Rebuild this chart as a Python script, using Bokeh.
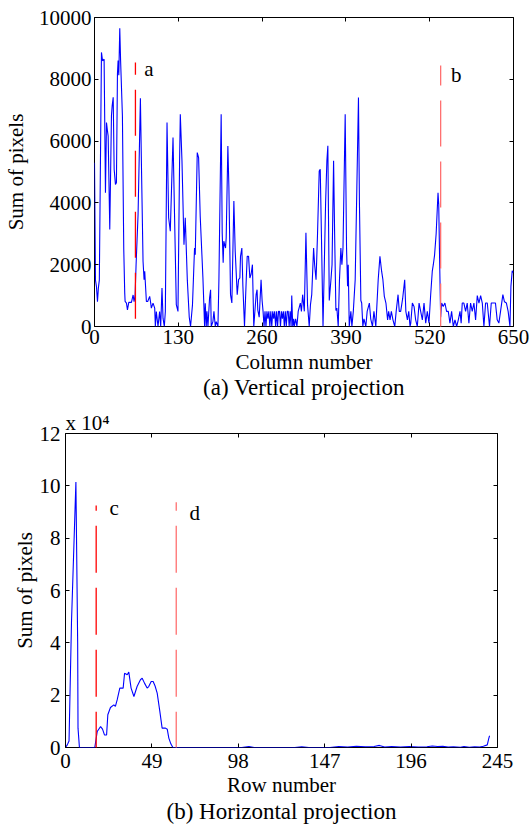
from bokeh.plotting import figure
from bokeh.models import Range1d, FixedTicker, LinearAxis, Title
from bokeh.core.properties import value
from bokeh.embed import file_html
from bokeh.resources import INLINE

# ---------------- data: (a) vertical projection ----------------
col_x = [0, 1.5, 3, 4.6, 6, 7.5, 10.8, 12.5, 14.9, 17, 18.6, 20.1, 21.2, 23.7, 26.3, 27.4, 29, 30.5,
         32.5, 34, 35.6, 36.6, 37.7, 39.2, 40.5, 43.3, 45.4, 46.9, 47.5, 49.6, 51.1, 53.2, 57.3, 59.9,
         61.4, 63, 64.5, 67.6, 71.2, 73, 75.3, 76.9, 77.9, 80.5, 82.5, 85.6, 87.2, 88.2, 90.8, 93.4,
         94.4, 95.9, 98.5, 101, 102.7, 104.7, 106.3, 108.3, 109.9, 112.5, 115, 117.6, 121.8, 126.9,
         129.5, 132, 133.1, 135.7, 138.8, 140.8, 144, 147, 149, 152, 155.2, 156.3, 159.4, 161.5, 164,
         168.2, 170.8, 171.8, 173.4, 174.4, 176, 178.5, 180.1, 181.1, 183.7, 185.3, 187.4, 188.9,
         191.5, 193, 196.5, 198.1, 199.6, 200.6, 203.3, 204.3, 206.9, 208.5, 211, 213.1, 216.2, 218.3,
         221.4, 223.5, 225.5, 226.5, 228.6, 230.2, 232.7, 235.5, 236.9, 239, 241, 243, 245, 247.1,
         250.7, 252.2, 253.3, 255.5, 258.4, 260, 261.5, 263, 264.5, 266, 267.5, 269, 270.5, 272,
         273.5, 275, 276.5, 278, 279.5, 281, 282.5, 284, 285.5, 287, 288.5, 290, 291.5, 293, 294.5,
         296, 297.5, 299, 300.5, 302, 303.5, 305, 306, 307.5, 309, 310, 312, 314, 316, 319.3, 321,
         322.9, 325.5, 328, 330.5, 333.1, 335, 337, 339.9, 341.5, 343.7, 346, 348.6, 350.2, 352,
         354.5, 356, 358.5, 360.5, 362, 364.2, 366.8, 368.5, 370.9, 372.5, 374.5, 376, 378.1, 380,
         382.2, 383.8, 385.5, 388.9, 391, 392.6, 393.6, 395.2, 397.7, 399.3, 401.5, 404.4, 407, 409.5,
         411, 413.2, 414.5, 416.3, 418, 420.9, 423, 426.4, 428.5, 431.2, 433.5, 436.4, 440.1, 442.8,
         445.4, 447.4, 449.6, 452.1, 454.7, 456.3, 458.5, 460.5, 463, 465.8, 468, 470.9, 472.8, 475,
         478, 481.2, 483, 485.4, 487.5, 489.5, 490.6, 493.1, 495.7, 498.2, 500.8, 503.5, 506, 508.6,
         511.2, 513.8, 516.3, 518.9, 521.5, 524, 525.6, 527.5, 530, 532.9, 534, 535.5, 537, 538.5,
         541, 543.6, 546.2, 548.8, 551.4, 554, 556.6, 559.2, 561.8, 564.4, 567, 568.8, 570.5, 573,
         575.7, 578.2, 580.8, 583.4, 586, 588.6, 591.2, 593.8, 596.4, 599, 601.6, 604.1, 606.7, 609.3,
         612.8, 615.5, 618.6, 622, 624.7, 627.3, 629.9, 633.5, 636, 639, 641.7, 644.5, 646, 648, 650]
col_sum = [5300, 1500, 1300, 800, 1250, 1500, 8870, 8600, 8650, 4330, 6600, 6330, 6160, 3140, 6820, 7140, 7420, 5090,
           4600, 4655, 8170, 8610, 8130, 9650, 8600, 6820, 2490, 1080, 810, 757, 540, 780, 780, 1020,
           800, 1020, 2000, 3630, 7390, 5000, 2110, 1515, 1785, 810, 810, 975, 757, 595, 757, 595,
           0, 487, 0, 487, 0, 1245, 270, 0, 487, 6600, 3520, 3085, 6115, 705,
           487, 5360, 6870, 5360, 2650, 3520, 1500, 300, 0, 700, 2540, 2320, 5630, 5465, 3570,
           1570, 0, 750, 0, 490, 0, 920, 1190, 0, 160, 490, 0, 160,
           0, 1500, 6870, 3030, 2060, 2760, 2540, 2870, 5845, 4500, 1030, 760, 4060, 2430,
           1030, 1515, 1570, 2270, 2540, 1300, 0, 1570, 2270, 2270, 1570, 1700, 2000, 0,
           1030, 1190, 540, 300, 1515, 840, 490, 0, 490, 0, 490, 250, 490, 0,
           490, 0, 490, 250, 490, 0, 490, 0, 490, 490, 0, 490, 250, 490, 0,
           490, 0, 490, 490, 0, 490, 0, 1000, 0, 250, 0, 250, 0, 490, 760, 490,
           1030, 490, 3030, 700, 0, 700, 1030, 2540, 2000, 1515, 3000, 5030, 5090, 3000,
           0, 1500, 4000, 5360, 5850, 840, 1515, 2000, 5360, 3000, 520, 600, 0, 1500,
           2540, 2000, 2540, 6870, 2540, 1300, 2000, 0, 490, 0, 490, 1515, 4500, 7410,
           4000, 840, 760, 0, 250, 0, 490, 760, 250, 0, 490, 0, 1515, 2270,
           1790, 1515, 975, 760, 215, 490, 215, 490, 215, 0, 490, 1030, 490, 490,
           900, 1515, 490, 215, 490, 0, 100, 760, 650, 215, 0, 760, 490, 215,
           760, 110, 490, 110, 1030, 1790, 2000, 2300, 3000, 4330, 3950, 2000, 300, 760,
           650, 760, 490, 490, 110, 490, 0, 215, 0, 215, 490, 110, 760, 760,
           490, 760, 110, 760, 490, 760, 215, 1000, 760, 1000, 760, 0, 760, 760,
           0, 760, 760, 760, 215, 110, 490, 1030, 800, 760, 490, 0, 1300, 1800, 1750]

col_ticks = [0, 130, 260, 390, 520, 650]
col_sum_ticks = [0, 2000, 4000, 6000, 8000, 10000]

# cut markers (a, b)
ab_names = ["a", "b"]
ab_pos = [63.5, 537]
ab_bottom = [250, -100]
ab_top = [8540, 8450]
ab_colors = ["#ff0000", "#ff7070"]
ab_label_x = [77, 553]
ab_label_y = [8347, 8152]

# ---------------- data: (b) horizontal projection ----------------
row_x = [0, 1, 2, 3.4, 5.9, 6.9, 7.1, 7.9, 16.6, 18, 19.9, 21, 22.1, 23.3, 24, 25.5, 27.4, 28.3, 29.3,
         30.8, 32.7, 33.5, 35, 35.9, 37.2, 38.8, 40.6, 42.5, 43.5, 44.8, 46.3, 47.2, 48.6, 49.7, 50.8,
         52, 53.5, 54.8, 56.7, 57.7, 58.6, 59.8, 60.9, 100, 104, 107, 130, 134, 138, 150, 155, 160,
         165, 170, 175, 178, 181, 185, 190, 195, 200, 205, 208, 211, 214, 217, 220, 224, 226, 229,
         232, 235, 237, 239.2, 240.1, 240.5]
row_sum = [0, 0.1, 0.25, 4.8, 10.15, 4.0, 0.74, 0, 0, 0.61, 0.80, 0.7, 0.48, 0.48, 1.25, 1.53, 1.63, 1.57, 1.82,
           2.27, 2.27, 2.84, 2.78, 2.88, 2.27, 1.95, 2.33, 2.59, 2.65, 2.46, 2.27, 2.33, 2.52, 2.52, 2.35,
           2.08, 1.38, 0.74, 0.74, 0.7, 0.36, 0.13, 0, 0, 0.04, 0, 0, 0.03, 0, 0, 0.04, 0.02,
           0.05, 0.03, 0.04, 0.08, 0.02, 0.04, 0.02, 0.04, 0.02, 0.03, 0.06, 0.04, 0.05, 0.02, 0.03, 0.01, 0.04, 0.01,
           0.03, 0.02, 0.05, 0.1, 0.36, 0.45]

row_ticks = [0, 49, 98, 147, 196, 245]
row_sum_ticks = [0, 2, 4, 6, 8, 10, 12]

cd_names = ["c", "d"]
cd_pos = [17.4, 62.8]
cd_bottom = [-0.43, -0.43]
cd_top = [9.25, 9.37]
cd_colors = ["#ff0000", "#ff7070"]
cd_label_x = [25, 70.3]
cd_label_y = [9.17, 8.98]

SERIF = "Liberation Serif"
W = 532


def style(p, xticks, yticks, ylab_standoff, xlab_standoff, ytick_standoff, xtick_standoff):
    p.outline_line_color = "black"
    p.outline_line_width = 1
    p.xgrid.visible = False
    p.ygrid.visible = False
    p.background_fill_color = "white"
    p.border_fill_color = "white"
    top = LinearAxis()
    right = LinearAxis()
    p.add_layout(top, "above")
    p.add_layout(right, "right")
    for ax in p.xaxis:
        ax.ticker = FixedTicker(ticks=xticks)
    for ax in p.yaxis:
        ax.ticker = FixedTicker(ticks=yticks)
    for ax in list(p.xaxis) + list(p.yaxis):
        ax.axis_line_color = None
        ax.major_tick_in = 4
        ax.major_tick_out = 0
        ax.major_tick_line_color = "black"
        ax.minor_tick_line_color = None
        ax.major_label_text_font = SERIF
        ax.major_label_text_font_size = "21px"
        ax.major_label_text_color = "black"
        ax.axis_label_text_font = SERIF
        ax.axis_label_text_font_size = "21px"
        ax.axis_label_text_font_style = "normal"
        ax.axis_label_text_color = "black"
    for ax in (top, right):
        ax.major_label_text_font_size = "1px"
        ax.major_label_text_color = None
        ax.major_label_standoff = 0
    p.below[0].major_label_standoff = xtick_standoff
    p.below[0].axis_label_standoff = xlab_standoff
    p.left[0].major_label_standoff = ytick_standoff
    p.left[0].axis_label_standoff = ylab_standoff


# ---------------- figure (a) ----------------
p1 = figure(width=W, height=405, output_backend="svg", toolbar_location=None,
            x_range=Range1d(0, 650), y_range=Range1d(0, 10000),
            min_border_left=93, min_border_right=19, min_border_top=17, min_border_bottom=79)
p1.xaxis.axis_label = "Column number"
p1.yaxis.axis_label = "Sum of pixels"
style(p1, col_ticks, col_sum_ticks, 8, 3, 3, 3)

p1.line(col_x, col_sum, line_color="#0000ff", line_width=1.1)
for i in range(len(ab_names)):
    p1.line([ab_pos[i], ab_pos[i]], [ab_bottom[i], ab_top[i]], line_color=ab_colors[i],
            line_width=1.3, line_dash="46 15")
p1.text(x=ab_label_x, y=ab_label_y, text=ab_names, text_font=value(SERIF),
        text_font_size=value("21px"), text_color="black", text_align="left",
        text_baseline="alphabetic")
p1.add_layout(Title(text="(a) Vertical projection", align="center", text_font=SERIF,
                    text_font_size="23px", text_font_style="normal", text_color="black",
                    standoff=-7, offset=0), "below")

# ---------------- figure (b) ----------------
p2 = figure(width=W, height=423, output_backend="svg", toolbar_location=None,
            x_range=Range1d(0, 245), y_range=Range1d(0, 12),
            min_border_left=65, min_border_right=35, min_border_top=28, min_border_bottom=81)
p2.xaxis.axis_label = "Row number"
p2.yaxis.axis_label = "Sum of pixels"
style(p2, row_ticks, row_sum_ticks, 0, 2, 5, 6)

p2.line(row_x, row_sum, line_color="#0000ff", line_width=1.1)
for i in range(len(cd_names)):
    p2.line([cd_pos[i], cd_pos[i]], [cd_bottom[i], cd_top[i]], line_color=cd_colors[i],
            line_width=1.3, line_dash="47 15")
p2.text(x=cd_label_x, y=cd_label_y, text=cd_names, text_font=value(SERIF),
        text_font_size=value("21px"), text_color="black", text_align="left",
        text_baseline="alphabetic")
p2.add_layout(Title(text="x 10\u2074", align="left", text_font=SERIF, text_font_size="21px",
                    text_font_style="normal", text_color="black", standoff=-3, offset=0), "above")
p2.add_layout(Title(text="(b) Horizontal projection", align="center", text_font=SERIF,
                    text_font_size="23px", text_font_style="normal", text_color="black",
                    standoff=-5, offset=0), "below")

open("out.html", "w").write(file_html([p1, p2], INLINE))
